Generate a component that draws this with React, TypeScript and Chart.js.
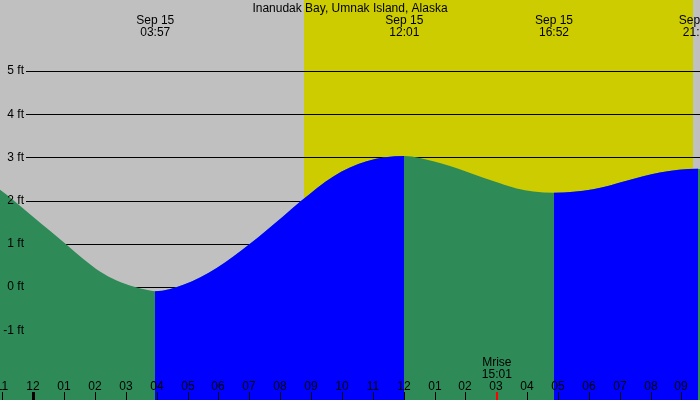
import { useEffect, useRef } from "react"
import { Chart, registerables } from "chart.js"

const title = "Inanudak Bay, Umnak Island, Alaska"

// tide curve: hours after midnight Sep 15, height in feet
const tideHours = [-1.08, -0.75, 0, 0.54, 1.08, 1.62, 2.16, 2.7, 3.24, 3.78, 3.95, 4.86, 5.94, 7.02, 8.1, 8.69, 9.72, 10.8, 12.02, 12.96, 13.5, 14.04, 14.58, 15.12, 15.66, 16.2, 16.87, 18.14, 19.22, 20.3, 21.53, 21.6]
const tideFeet = [2.25, 2.07, 1.62, 1.3, 0.98, 0.65, 0.36, 0.15, 0.01, -0.08, -0.1, 0.05, 0.44, 1.0, 1.64, 2.0, 2.56, 2.91, 3.03, 2.91, 2.8, 2.67, 2.53, 2.4, 2.28, 2.21, 2.18, 2.26, 2.46, 2.65, 2.74, 2.73]

// high / low tide labels
const extremeHours = [3.95, 12.02, 16.87, 21.53]
const extremeDates = ["Sep 15", "Sep 15", "Sep 15", "Sep 15"]
const extremeTimes = ["03:57", "12:01", "16:52", "21:32"]

const feetTicks = [-1, 0, 1, 2, 3, 4, 5]
const hourTicks = [-1, 0, 1, 2, 3, 4, 5, 6, 7, 8, 9, 10, 11, 12, 13, 14, 15, 16, 17, 18, 19, 20, 21]
const hourLabels = ["11", "12", "01", "02", "03", "04", "05", "06", "07", "08", "09", "10", "11", "12", "01", "02", "03", "04", "05", "06", "07", "08", "09"]

const sunrise = 8.77
const sunset = 21.38
const moonrise = 15.017
const moonriseLabel = "15:01"

const NIGHT = "#c0c0c0"
const DAY = "#cccc00"
const RISING = "#0000ff"
const FALLING = "#2e8b57"
const FONT = '12px "Liberation Sans", Arial, sans-serif'

// hour ranges where the tide is rising
const risingRanges: [number, number][] = []
for (let i = 1; i < tideHours.length; i++) {
  if (tideFeet[i] > tideFeet[i - 1]) {
    const last = risingRanges[risingRanges.length - 1]
    if (last && last[1] === tideHours[i - 1]) last[1] = tideHours[i]
    else risingRanges.push([tideHours[i - 1], tideHours[i]])
  }
}

const tidePlugin = {
  id: "tideDecor",
  beforeDraw(chart: Chart) {
    const { ctx, chartArea: a, scales } = chart
    const x = scales.x
    ctx.save()
    ctx.fillStyle = NIGHT
    ctx.fillRect(a.left, a.top, a.right - a.left, a.bottom - a.top)
    const x1 = Math.round(x.getPixelForValue(sunrise))
    const x2 = Math.round(x.getPixelForValue(sunset))
    ctx.fillStyle = DAY
    ctx.fillRect(x1, a.top, x2 - x1, a.bottom - a.top)
    ctx.restore()
  },
  beforeDatasetsDraw(chart: Chart) {
    const { ctx, chartArea: a, scales } = chart
    ctx.save()
    ctx.strokeStyle = "#000"
    ctx.lineWidth = 1
    feetTicks.forEach((f) => {
      const y = Math.round(scales.y.getPixelForValue(f)) + 0.5
      ctx.beginPath()
      ctx.moveTo(26, y)
      ctx.lineTo(a.right, y)
      ctx.stroke()
    })
    ctx.restore()
  },
  // clip the rising (blue) dataset, including its fill, to the rising ranges
  beforeDatasetDraw(chart: Chart, args: any) {
    if (args.index !== 0) return
    const { ctx, chartArea: a, scales } = chart
    ctx.save()
    ctx.beginPath()
    risingRanges.forEach(([h1, h2]) => {
      const x1 = Math.round(scales.x.getPixelForValue(h1))
      const x2 = Math.round(scales.x.getPixelForValue(h2))
      ctx.rect(x1, a.top, x2 - x1, a.bottom - a.top)
    })
    ctx.clip()
  },
  afterDatasetDraw(chart: Chart, args: any) {
    if (args.index !== 0) return
    chart.ctx.restore()
  },
  afterDatasetsDraw(chart: Chart) {
    const { ctx, chartArea: a, scales } = chart
    const x = scales.x
    const y = scales.y
    ctx.save()
    ctx.font = FONT
    ctx.fillStyle = "#000"

    // y labels
    ctx.textAlign = "right"
    ctx.textBaseline = "middle"
    feetTicks.forEach((f) => {
      ctx.fillText(f + " ft", 24, y.getPixelForValue(f))
    })

    // title and tide labels
    ctx.textAlign = "center"
    ctx.textBaseline = "alphabetic"
    ctx.fillText(title, 350, 12)
    extremeHours.forEach((h, i) => {
      const px = x.getPixelForValue(h)
      ctx.fillText(extremeDates[i], px, 24)
      ctx.fillText(extremeTimes[i], px, 36)
    })

    // hour labels and ticks
    hourTicks.forEach((h, i) => {
      const px = Math.round(x.getPixelForValue(h))
      ctx.fillText(hourLabels[i], px, 390)
      const w = h === 0 ? 3 : 1
      ctx.fillRect(px - Math.floor(w / 2), 392, w, a.bottom - 392)
    })

    // moonrise
    const mx = x.getPixelForValue(moonrise)
    ctx.fillText("Mrise", mx, 366)
    ctx.fillText(moonriseLabel, mx, 378)
    ctx.fillStyle = "#ff0000"
    ctx.fillRect(Math.round(mx) - 1, 392, 2, a.bottom - 392)
    ctx.restore()
  },
}

// registered before the filler plugin so the clip is set before the fill is drawn
Chart.register(tidePlugin)
Chart.register(...registerables)

export default function App() {
  const chartRef = useRef<HTMLCanvasElement>(null)
  const chartInstance = useRef<Chart | null>(null)

  useEffect(() => {
    document.body.style.margin = "0"
    if (!chartRef.current) return
    if (chartInstance.current) chartInstance.current.destroy()
    const ctx = chartRef.current.getContext("2d")
    if (!ctx) return

    const points = tideHours.map((h, i) => ({ x: h, y: tideFeet[i] }))
    const common = {
      data: points,
      borderWidth: 0,
      borderColor: "rgba(0,0,0,0)",
      pointRadius: 0,
      fill: "start",
      cubicInterpolationMode: "monotone" as const,
    }

    chartInstance.current = new Chart(ctx, {
      type: "line",
      data: {
        datasets: [
          // rising tide, clipped to rising ranges, drawn on top
          { ...common, backgroundColor: RISING },
          // falling tide under the whole curve
          { ...common, backgroundColor: FALLING },
        ],
      },
      options: {
        responsive: true,
        maintainAspectRatio: false,
        animation: false,
        layout: { padding: 0 },
        plugins: {
          legend: { display: false },
          tooltip: { enabled: false },
        },
        scales: {
          x: { type: "linear", min: -1.079, max: 21.6, display: false },
          y: { type: "linear", min: -2.616, max: 6.644, display: false },
        },
      },
    })

    return () => {
      if (chartInstance.current) {
        chartInstance.current.destroy()
        chartInstance.current = null
      }
    }
  }, [])

  return (
    <div style={{ width: 700, height: 400, position: "relative" }}>
      <canvas ref={chartRef} />
    </div>
  )
}
